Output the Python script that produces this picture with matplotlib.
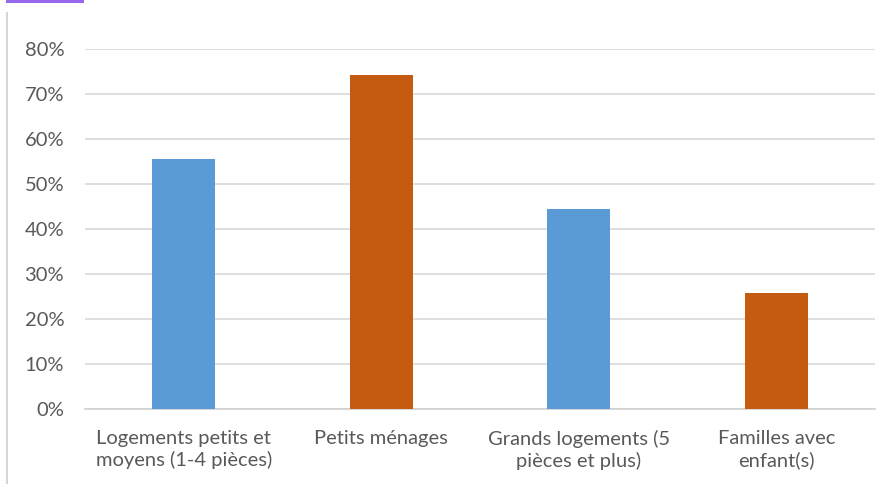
import matplotlib
matplotlib.use("Agg")
import matplotlib.pyplot as plt
from matplotlib.patches import Rectangle
from matplotlib.lines import Line2D

categories = ["Logements petits et\nmoyens (1-4 pièces)", "Petits ménages",
              "Grands logements (5\npièces et plus)", "Familles avec\nenfant(s)"]
values = [0.556, 0.743, 0.444, 0.258]
colors = ["#5B9BD5", "#C55A11", "#5B9BD5", "#C55A11"]
yticks = [0, 0.1, 0.2, 0.3, 0.4, 0.5, 0.6, 0.7, 0.8]
ytick_labels = ["0%", "10%", "20%", "30%", "40%", "50%", "60%", "70%", "80%"]

plt.rcParams['font.family'] = ['Lato', 'DejaVu Sans']

W, H = 894, 484
fig = plt.figure(figsize=(W / 100, H / 100), dpi=100)
fig.patch.set_facecolor("white")

ax = fig.add_axes([85 / W, 1 - 409 / H, 790 / W, (409 - 49.3) / H])
x = list(range(len(categories)))
ax.bar(x, values, width=0.32, color=colors, zorder=3)
ax.set_xlim(-0.5, len(categories) - 0.5)
ax.set_ylim(0, 0.8)
ax.set_yticks(yticks)
ax.set_yticklabels(ytick_labels)
ax.set_xticks(x)
ax.set_xticklabels(categories, linespacing=1.3)
ax.yaxis.grid(True, color="#D9D9D9", linewidth=1.2, zorder=0)
ax.set_axisbelow(True)
for s in ["top", "right", "left"]:
    ax.spines[s].set_visible(False)
ax.spines["bottom"].set_color("#D0D0D0")
ax.spines["bottom"].set_linewidth(1.2)
ax.tick_params(axis="both", length=0, colors="#595959", labelsize=14.5)
ax.tick_params(axis="y", pad=15)
ax.tick_params(axis="x", pad=15)

# frame line at left and cut-off header fragment
fig.add_artist(Line2D([6.5 / W, 6.5 / W], [0, 1 - 13 / H], color="#D6D6D6", linewidth=1.5))
fig.add_artist(Rectangle((6 / W, 1 - 2.5 / H), 78 / W, 2.5 / H, color="#9966EE", linewidth=0))

fig.savefig("out.png", dpi=100, facecolor="white")
